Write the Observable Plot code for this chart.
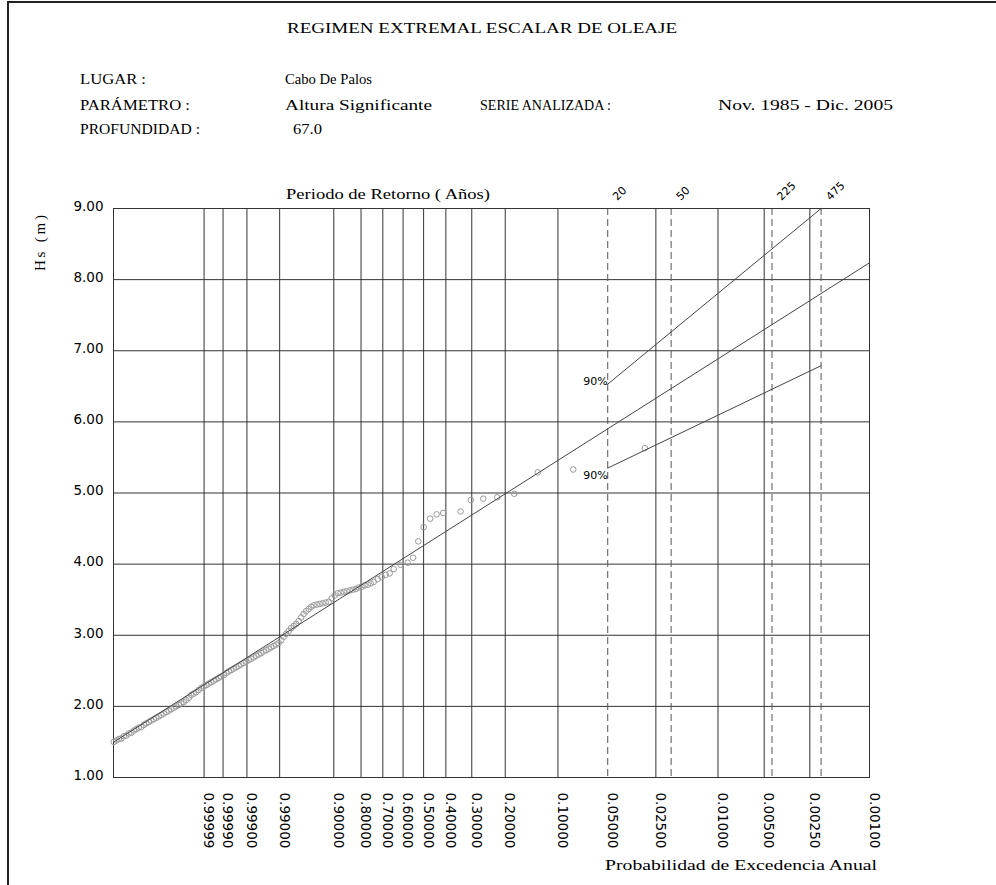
<!DOCTYPE html>
<html><head><meta charset="utf-8">
<script src="https://cdn.jsdelivr.net/npm/d3@7"></script>
<script src="https://cdn.jsdelivr.net/npm/@observablehq/plot@0.6"></script>
<style>
body{margin:0;background:#fff;}
#wrap{position:relative;width:996px;height:885px;overflow:hidden;background:#fff;}
#wrap svg{position:absolute;left:0;top:0;}
</style></head><body><div id="wrap"></div>
<script>
// ---------- data ----------
const probTicks = [0.99999, 0.9999, 0.999, 0.99, 0.9, 0.8, 0.7, 0.6, 0.5, 0.4, 0.3, 0.2, 0.1, 0.05, 0.025, 0.01, 0.005, 0.0025, 0.001];
const returnPeriods = [20, 50, 225, 475];
const hsTicks = [1, 2, 3, 4, 5, 6, 7, 8, 9];

// observed storms: reduced variate (x axis) and Hs (m)
const pointU = [0.138,0.164,0.189,0.214,0.239,0.264,0.290,0.315,0.340,0.365,0.390,0.416,0.441,0.466,0.491,0.516,0.542,0.567,0.592,0.617,0.642,0.668,0.693,0.718,0.743,0.769,0.794,0.819,0.844,0.869,0.895,0.920,0.945,0.970,0.995,1.021,1.046,1.071,1.096,1.122,1.147,1.172,1.197,1.222,1.248,1.273,1.298,1.323,1.348,1.374,1.399,1.424,1.449,1.475,1.500,1.525,1.550,1.575,1.601,1.626,1.651,1.676,1.701,1.727,1.752,1.777,1.802,1.828,1.853,1.878,1.903,1.928,1.954,1.979,2.004,2.029,2.054,2.080,2.105,2.130,2.155,2.186,2.216,2.246,2.277,2.307,2.338,2.368,2.398,2.428,2.459,2.489,2.519,2.549,2.580,2.610,2.640,2.670,2.701,2.731,2.761,2.802,2.842,2.882,2.923,2.963,3.033,3.104,3.159,3.211,3.265,3.331,3.396,3.463,3.638,3.741,3.867,4.008,4.180,4.417,4.775,5.497];
const pointHs = [1.50,1.52,1.54,1.55,1.58,1.59,1.62,1.63,1.66,1.68,1.70,1.71,1.74,1.76,1.78,1.80,1.82,1.84,1.86,1.88,1.90,1.92,1.94,1.96,1.98,2.00,2.02,2.04,2.06,2.09,2.12,2.16,2.18,2.20,2.23,2.26,2.28,2.30,2.32,2.34,2.36,2.38,2.40,2.42,2.44,2.47,2.49,2.51,2.53,2.55,2.57,2.59,2.61,2.63,2.65,2.67,2.69,2.71,2.73,2.75,2.77,2.79,2.81,2.83,2.85,2.87,2.89,2.93,2.98,3.02,3.06,3.10,3.13,3.16,3.20,3.25,3.30,3.34,3.37,3.40,3.42,3.43,3.44,3.45,3.46,3.47,3.52,3.56,3.59,3.60,3.61,3.62,3.63,3.64,3.65,3.67,3.68,3.70,3.71,3.73,3.75,3.79,3.82,3.85,3.87,3.93,3.99,4.02,4.09,4.32,4.52,4.64,4.70,4.72,4.74,4.90,4.92,4.94,4.99,5.29,5.33,5.63];

// fitted distribution (straight line on this paper)
const fitU = [0.135, 7.765];
const fitHs = [1.496, 8.236];
// 90% confidence band, from T = 20 to T = 475 years
const bandT = [20, 475];
const upperHs = [6.53, 9.00];
const lowerHs = [5.35, 6.79];
const bandLabel = "90%";

// ---------- paper transform (annual exceedance probability -> reduced variate) ----------
const LN_LAMBDA = 3.5, INV_SHAPE = 0.875;
const u = p => Math.pow(-Math.log(-Math.log(1 - p)) + LN_LAMBDA, INV_SHAPE);

const points = pointU.map((v, i) => ({u: v, hs: pointHs[i]}));
const fit = fitU.map((v, i) => ({u: v, hs: fitHs[i]}));
const upper = bandT.map((T, i) => ({u: u(1 / T), hs: upperHs[i]}));
const lower = bandT.map((T, i) => ({u: u(1 / T), hs: lowerHs[i]}));
const gridProbs = probTicks.filter(p => !returnPeriods.some(T => Math.abs(1 / T - p) < 1e-9));

const SANS = "DejaVu Sans, Verdana, sans-serif";
const GRID = "#333";

const chart = Plot.plot({
  width: 996, height: 885,
  marginTop: 208, marginBottom: 108, marginLeft: 113, marginRight: 127,
  x: {domain: [0.135, u(0.001)], axis: null},
  y: {domain: [1, 9], axis: null},
  style: {background: "transparent", overflow: "visible"},
  marks: [
    Plot.ruleY(hsTicks.slice(1, -1), {y: d => d, stroke: GRID, strokeWidth: 1}),
    Plot.ruleX(gridProbs, {x: p => u(p), stroke: GRID, strokeWidth: 1}),
    Plot.ruleX(returnPeriods, {x: T => u(1 / T), stroke: "#555", strokeWidth: 1, strokeDasharray: "7,4"}),
    Plot.frame({stroke: "#333", strokeWidth: 1}),
    Plot.dot(points, {x: "u", y: "hs", r: 2.8, stroke: "#999", strokeWidth: 1, fill: "none"}),
    Plot.line(fit, {x: "u", y: "hs", stroke: "#444", strokeWidth: 1}),
    Plot.line(upper, {x: "u", y: "hs", stroke: "#444", strokeWidth: 1}),
    Plot.line(lower, {x: "u", y: "hs", stroke: "#444", strokeWidth: 1}),
    Plot.text([upper[0]], {x: "u", y: "hs", text: () => bandLabel, textAnchor: "end", dx: 0, dy: -3, fontSize: 11, fontFamily: SANS, fill: "#000"}),
    Plot.text([lower[0]], {x: "u", y: "hs", text: () => bandLabel, textAnchor: "end", dx: 0, dy: 7, fontSize: 11, fontFamily: SANS, fill: "#000"}),
    Plot.text(hsTicks, {y: d => d, frameAnchor: "left", dx: -10, dy: -2, textAnchor: "end", text: d => d.toFixed(2), fontSize: 13.5, fontFamily: SANS, fill: "#000"}),
    Plot.text(probTicks, {x: p => u(p), frameAnchor: "bottom", dy: 15, rotate: 90, textAnchor: "start", text: p => p.toFixed(5), fontSize: 13.5, fontFamily: SANS, fill: "#000"}),
    Plot.text(returnPeriods, {x: T => u(1 / T), frameAnchor: "top", dx: 4, dy: -13, rotate: -45, textAnchor: "start", text: T => String(T), fontSize: 11, fontFamily: SANS, fill: "#000"})
  ]
});

const wrap = document.getElementById("wrap");
wrap.appendChild(chart);

// ---------- header / titles ----------
const headerItems = [
  {text: "REGIMEN EXTREMAL ESCALAR DE OLEAJE", x: 287, y: 33, w: 390},
  {text: "LUGAR :", x: 80, y: 84, w: 66},
  {text: "Cabo De Palos", x: 285, y: 84, w: 87},
  {text: "PARÁMETRO :", x: 80, y: 110, w: 110},
  {text: "Altura Significante", x: 285, y: 110, w: 147},
  {text: "SERIE ANALIZADA :", x: 480, y: 110, w: 131},
  {text: "Nov. 1985 - Dic. 2005", x: 718, y: 110, w: 175},
  {text: "PROFUNDIDAD :", x: 80, y: 134, w: 120},
  {text: "67.0", x: 293, y: 134, w: 29},
  {text: "Periodo de Retorno ( Años)", x: 286, y: 199, w: 204},
  {text: "Probabilidad de Excedencia Anual", x: 605, y: 870, w: 272}
];
const hdr = d3.create("svg").attr("width", 996).attr("height", 885).style("pointer-events", "none");
hdr.append("line").attr("x1", 8).attr("x2", 996).attr("y1", 2).attr("y2", 2).attr("stroke", "#222").attr("stroke-width", 2);
hdr.append("line").attr("x1", 8).attr("x2", 8).attr("y1", 1).attr("y2", 885).attr("stroke", "#222").attr("stroke-width", 2);
for (const h of headerItems) {
  hdr.append("text").attr("x", h.x).attr("y", h.y)
    .attr("textLength", h.w).attr("lengthAdjust", "spacingAndGlyphs")
    .attr("font-family", "Liberation Serif, Times New Roman, serif").attr("font-size", 15)
    .attr("fill", "#000").text(h.text);
}
hdr.append("text").attr("transform", "translate(45,243) rotate(-90)")
  .attr("text-anchor", "middle").attr("textLength", 56).attr("lengthAdjust", "spacing")
  .attr("font-family", "Liberation Serif, serif").attr("font-size", 15)
  .attr("fill", "#000").text("Hs  (m)");
wrap.appendChild(hdr.node());
</script></body></html>
